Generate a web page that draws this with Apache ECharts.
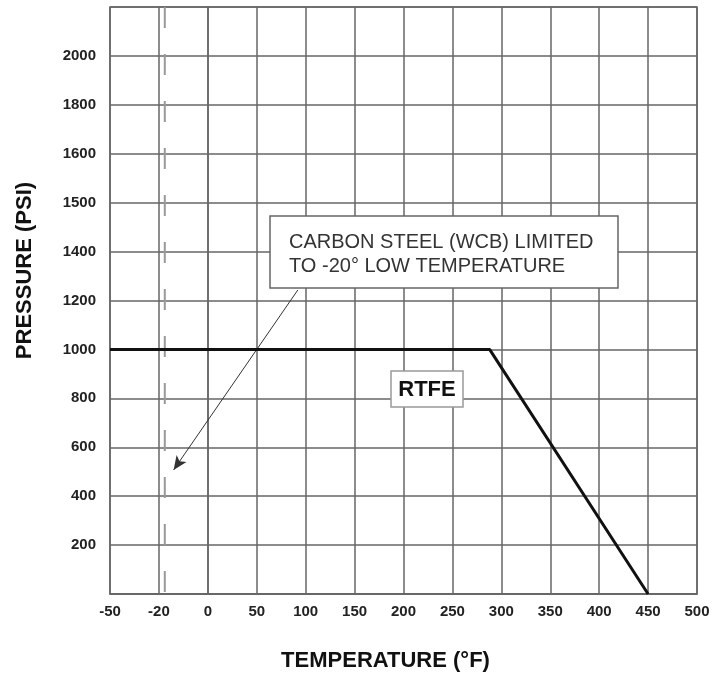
<!DOCTYPE html>
<html>
<head>
<meta charset="utf-8">
<script src="https://cdn.jsdelivr.net/npm/echarts@6/dist/echarts.min.js"></script>
<style>html,body{margin:0;padding:0;background:#fff}#c{width:722px;height:677px}</style>
</head>
<body>
<div id="c"></div>
<script>
// Axis tick labels (as printed on the chart, one per grid line)
var xTickLabels = ['-50', '-20', '0', '50', '100', '150', '200', '250', '300', '350', '400', '450', '500'];
var yTickLabels = ['', '200', '400', '600', '800', '1000', '1200', '1400', '1500', '1600', '1800', '2000', ''];
// RTFE rating line (temperature in axis units, pressure in PSI)
var rtfeTemp = [-100, 288, 450];
var rtfePressure = [1000, 1000, 0];
// Carbon steel low-temperature limit (dashed line position, axis units)
var limitTemp = [-44];
// Callout arrow: from box corner to the limit line
var arrowFrom = [92, 1243];
var arrowTo = [-35, 507];

var X_MIN = -100, X_MAX = 500, X_STEP = 50;
var Y_MIN = 0, Y_MAX = 2400, Y_STEP = 200;

var gridColor = '#666';
var chart = echarts.init(document.getElementById('c'));
chart.setOption({
  animation: false,
  backgroundColor: '#fff',
  grid: { left: 110, right: 25, top: 7, bottom: 83, show: true, borderColor: gridColor, borderWidth: 1.5 },
  xAxis: {
    type: 'value', min: X_MIN, max: X_MAX, interval: X_STEP,
    name: 'TEMPERATURE (°F)', nameLocation: 'middle', nameGap: 56,
    nameTextStyle: { fontFamily: 'Liberation Sans', fontWeight: 'bold', fontSize: 22, color: '#111', padding: [0, 36, 0, 0] },
    axisLine: { show: true, lineStyle: { color: gridColor, width: 1.5 } },
    axisTick: { show: false },
    splitLine: { show: true, lineStyle: { color: gridColor, width: 1.5 } },
    axisLabel: {
      margin: 10, fontFamily: 'Liberation Sans', fontWeight: 'bold', fontSize: 15, color: '#222',
      formatter: function (v) { return xTickLabels[Math.round((v - X_MIN) / X_STEP)] || ''; }
    }
  },
  yAxis: {
    type: 'value', min: Y_MIN, max: Y_MAX, interval: Y_STEP,
    name: 'PRESSURE (PSI)', nameLocation: 'middle', nameGap: 74, nameRotate: 90,
    nameTextStyle: { fontFamily: 'Liberation Sans', fontWeight: 'bold', fontSize: 22, color: '#111', padding: [0, 0, 0, 60] },
    axisLine: { show: true, lineStyle: { color: gridColor, width: 1.5 } },
    axisTick: { show: false },
    splitLine: { show: true, lineStyle: { color: gridColor, width: 1.5 } },
    axisLabel: {
      margin: 14, fontFamily: 'Liberation Sans', fontWeight: 'bold', fontSize: 15, color: '#222',
      formatter: function (v) { return yTickLabels[Math.round((v - Y_MIN) / Y_STEP)] || ''; }
    }
  },
  series: [
    {
      type: 'line',
      data: [[limitTemp[0], Y_MAX], [limitTemp[0], Y_MIN]],
      symbol: 'none',
      lineStyle: { color: '#999', width: 2, type: [21, 26] },
      z: 3,
      silent: true
    },
    {
      type: 'line',
      data: rtfeTemp.map(function (t, i) { return [t, rtfePressure[i]]; }),
      symbol: 'none',
      lineStyle: { color: '#111', width: 3 },
      z: 5,
      markLine: {
        silent: true,
        animation: false,
        label: { show: false },
        symbol: ['none', 'arrow'],
        symbolSize: [9, 14],
        lineStyle: { color: '#333', width: 1, type: 'solid' },
        data: [[{ coord: arrowFrom }, { coord: arrowTo }]]
      }
    }
  ],
  graphic: [
    { type: 'rect', z: 100, shape: { x: 270, y: 216, width: 348, height: 72 },
      style: { fill: '#fff', stroke: '#666', lineWidth: 1.5 } },
    { type: 'text', z: 101, x: 289, y: 242,
      style: { text: 'CARBON STEEL (WCB) LIMITED', fontFamily: 'Liberation Sans', fontSize: 20, fill: '#333', verticalAlign: 'middle', align: 'left' } },
    { type: 'text', z: 101, x: 289, y: 266,
      style: { text: 'TO -20° LOW TEMPERATURE', fontFamily: 'Liberation Sans', fontSize: 20, fill: '#333', verticalAlign: 'middle', align: 'left' } },
    { type: 'rect', z: 100, shape: { x: 391, y: 371, width: 72, height: 36 },
      style: { fill: '#fff', stroke: '#999', lineWidth: 1.5 } },
    { type: 'text', z: 101, x: 427, y: 390,
      style: { text: 'RTFE', fontFamily: 'Liberation Sans', fontWeight: 'bold', fontSize: 22, fill: '#111', verticalAlign: 'middle', align: 'center' } }
  ]
});
</script>
</body>
</html>
